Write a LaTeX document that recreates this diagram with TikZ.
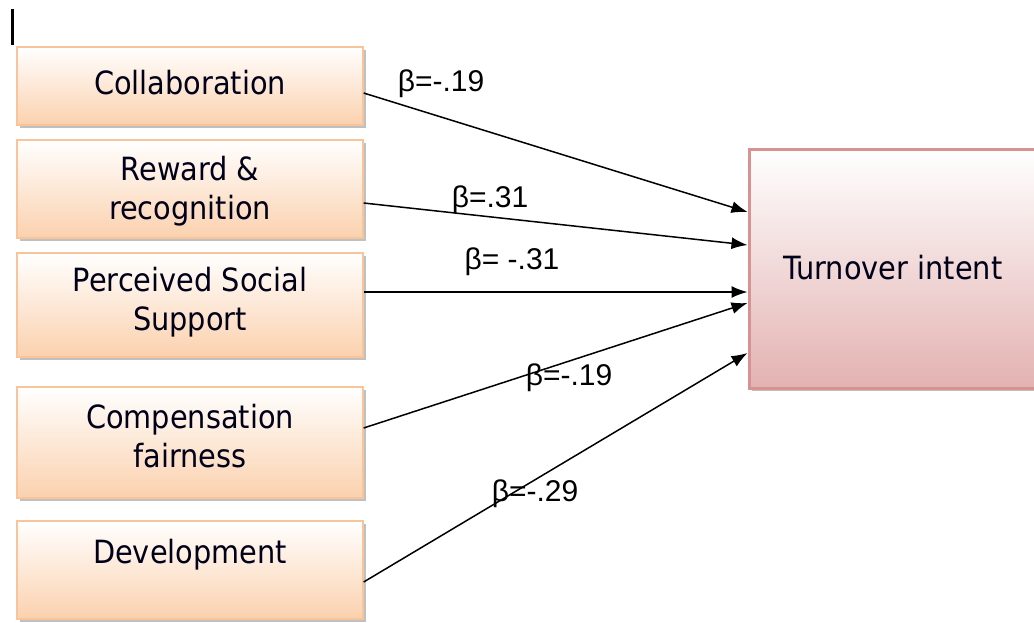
\documentclass[tikz,border=0pt]{standalone}
\usepackage{fontspec}
\setmainfont{DejaVu Sans Condensed}
\newfontfamily\betafont{Liberation Sans}
\usetikzlibrary{arrows.meta,shadows,calc}
\definecolor{peach}{HTML}{FBD1AE}
\definecolor{peachline}{HTML}{F8C49A}
\definecolor{rosefill}{HTML}{E3B2B1}
\definecolor{roseline}{HTML}{D69392}
\begin{document}
\begin{tikzpicture}[x=1pt,y=-1pt,
  srcbox/.style={draw=peachline, line width=1.3pt, top color=white, bottom color=peach,
    drop shadow={shadow xshift=3pt,shadow yshift=-3pt,fill=black!45,opacity=0.55},
    inner sep=0pt, minimum width=346pt},
  tgtbox/.style={draw=roseline, line width=3pt, top color=white, bottom color=rosefill,
    drop shadow={shadow xshift=3pt,shadow yshift=-3pt,fill=black!45,opacity=0.55},
    inner sep=0pt},
  boxtext/.style={font=\fontsize{32}{39}\selectfont, align=center, text=black!90!blue, inner sep=0pt},
  beta/.style={font=\betafont\fontsize{30}{34}\selectfont, inner sep=0pt},
  path/.style={line width=1.5pt, -{Latex[length=16pt,width=12pt]}}]
\useasboundingbox (0,0) rectangle (1034,622);
% cursor mark
\draw[line width=3pt] (12,9) -- (12,45);
% source boxes
\node[srcbox, minimum height=78pt]  (b1) at (190,86) {};
\node[srcbox, minimum height=98pt]  (b2) at (190,189) {};
\node[srcbox, minimum height=104pt] (b3) at (190,305) {};
\node[srcbox, minimum height=111pt] (b4) at (190,442.5) {};
\node[srcbox, minimum height=98pt]  (b5) at (190,570) {};
\node[boxtext] (t1) at (190,83) {Collaboration};
\node[boxtext] (t2) at (190,191) {Reward \&\\recognition};
\node[boxtext] (t3) at (190,302) {Perceived Social\\Support};
\node[boxtext] (t4) at (190,436) {Compensation\\fairness};
\node[boxtext] (t5) at (190,555) {Development};
% target box
\node[tgtbox, minimum width=292pt, minimum height=239pt] (T) at (895,268.5) {};
\node[boxtext] (tt) at (893,268) {Turnover intent};
% connectors
\draw[path] (b1.east |- 0,93)  -- (T.west |- 0,212);
\draw[path] (b2.east |- 0,203) -- (T.west |- 0,245);
\draw[path] (b3.east |- 0,292) -- (T.west |- 0,292);
\draw[path] (b4.east |- 0,428) -- (T.west |- 0,303);
\draw[path] (b5.east |- 0,582) -- (T.west |- 0,353);
% labels
\node[beta] (l1) at (441,84)  {β=-.19};
\node[beta] (l2) at (490,200) {β=.31};
\node[beta] (l3) at (512,262) {β= -.31};
\node[beta] (l4) at (569,378) {β=-.19};
\node[beta] (l5) at (535,494) {β=-.29};
\end{tikzpicture}
\end{document}
